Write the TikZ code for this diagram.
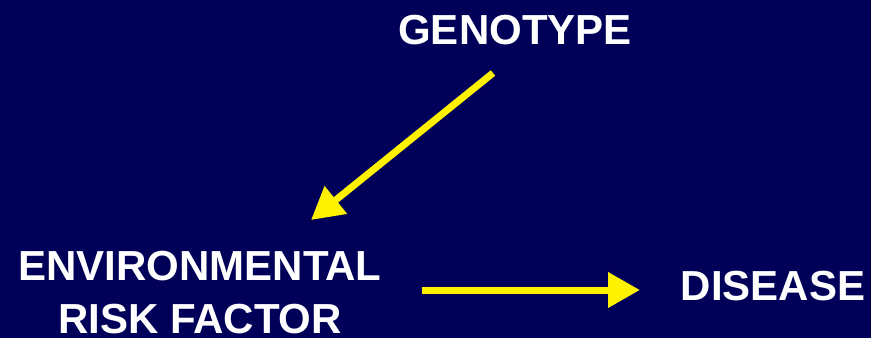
\documentclass[tikz,border=0pt]{standalone}
\usepackage{fontspec}
\setmainfont{Liberation Sans}
\usetikzlibrary{arrows.meta}
\definecolor{slidebg}{RGB}{0,0,88}
\begin{document}
\begin{tikzpicture}[x=1pt, y=1pt,
        word/.style={text=white, font=\fontsize{42}{53}\selectfont\bfseries, inner sep=0pt, align=center},
        arrow/.style={draw=yellow, line width=7pt, -{Triangle[length=32pt, width=34pt]}}
      ]
        \useasboundingbox (0,0) rectangle (871,338);
        \fill[slidebg] (0,0) rectangle (871,338);
        \node[word, anchor=base] (geno) at (515,293) {GENOTYPE};
        \node[word] (env) at (200,45) {ENVIRONMENTAL\\RISK FACTOR};
        \node[word, anchor=base] (dis) at (773,38) {DISEASE};
        \coordinate (gstart) at (493,265);
        \coordinate (gend) at (311,118);
        \coordinate (estart) at (422,48);
        \coordinate (eend) at (640,48);
        \draw[arrow] (gstart) -- (gend);
        \draw[arrow] (estart) -- (eend);
      \end{tikzpicture}
\end{document}
